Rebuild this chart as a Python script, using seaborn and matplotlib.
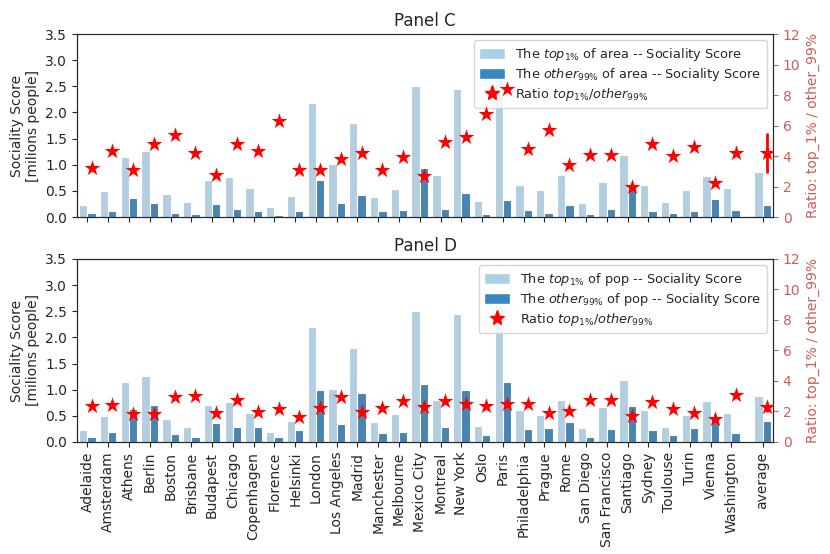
import numpy as np
import pandas as pd
import matplotlib
matplotlib.use("Agg")
import matplotlib.pyplot as plt
import seaborn as sns
from matplotlib.patches import Patch
from matplotlib.lines import Line2D

cities = ["Adelaide", "Amsterdam", "Athens", "Berlin", "Boston", "Brisbane", "Budapest",
          "Chicago", "Copenhagen", "Florence", "Helsinki", "London", "Los Angeles", "Madrid",
          "Manchester", "Melbourne", "Mexico City", "Montreal", "New York", "Oslo", "Paris",
          "Philadelphia", "Prague", "Rome", "San Diego", "San Francisco", "Santiago", "Sydney",
          "Toulouse", "Turin", "Vienna", "Washington", "average"]
positions = list(range(32)) + [32.5]

# sociality score of the top 1% (same in both panels)
top1_score = [0.23, 0.49, 1.15, 1.27, 0.44, 0.28, 0.70, 0.76, 0.56, 0.20, 0.40, 2.19, 1.01,
              1.80, 0.39, 0.54, 2.50, 0.80, 2.44, 0.30, 2.68, 0.62, 0.51, 0.80, 0.27, 0.66,
              1.19, 0.62, 0.28, 0.52, 0.79, 0.56, 0.87]

# panel C: area
other_area = [0.07, 0.11, 0.37, 0.26, 0.08, 0.065, 0.25, 0.15, 0.12, 0.035, 0.12, 0.70, 0.26,
              0.42, 0.12, 0.13, 0.93, 0.16, 0.46, 0.05, 0.32, 0.13, 0.085, 0.22, 0.06, 0.155,
              0.59, 0.12, 0.07, 0.11, 0.35, 0.13, 0.22]
ratio_area = [3.2, 4.3, 3.1, 4.8, 5.4, 4.2, 2.75, 4.8, 4.35, 6.3, 3.05, 3.05, 3.8, 4.2, 3.05,
              3.95, 2.7, 4.95, 5.25, 6.75, 8.4, 4.45, 5.7, 3.4, 4.05, 4.05, 1.97, 4.8, 4.0,
              4.6, 2.2, 4.2, 4.2]
ratio_area_err = 1.3

# panel D: population
other_pop = [0.10, 0.20, 0.63, 0.70, 0.15, 0.09, 0.37, 0.28, 0.28, 0.10, 0.23, 0.99, 0.34,
             0.93, 0.18, 0.20, 1.10, 0.29, 0.99, 0.13, 1.15, 0.25, 0.26, 0.39, 0.09, 0.24,
             0.68, 0.23, 0.13, 0.26, 0.50, 0.18, 0.40]
ratio_pop = [2.38, 2.4, 1.84, 1.84, 2.93, 3.04, 1.88, 2.73, 1.97, 2.14, 1.66, 2.2, 2.95, 1.95,
             2.2, 2.71, 2.3, 2.71, 2.49, 2.36, 2.47, 2.49, 1.92, 2.03, 2.78, 2.78, 1.73, 2.6,
             2.14, 1.92, 1.52, 3.06, 2.27]
ratio_pop_err = 0.3

light = "#abd0e6"
dark = "#3787c0"
red_axis = "indianred"

sns.set_style("ticks")
plt.rcParams["font.family"] = ["DejaVu Sans"]

fig, axes = plt.subplots(2, 1, figsize=(8.3, 5.54), dpi=100)
fig.subplots_adjust(left=0.0928, right=0.9313, top=0.9386, bottom=0.2022, hspace=0.2295)

panels = [("Panel C", "area", other_area, ratio_area, ratio_area_err),
          ("Panel D", "pop", other_pop, ratio_pop, ratio_pop_err)]

n = len(cities)
for ax, (title, kind, other, ratio, err) in zip(axes, panels):
    df = pd.DataFrame({
        "pos": positions + positions,
        "score": top1_score + other,
        "group": ["top"] * n + ["other"] * n,
    })
    sns.barplot(data=df, x="pos", y="score", hue="group", hue_order=["top", "other"],
                native_scale=True, palette=[light, dark], edgecolor="white", linewidth=0.8,
                errorbar=None, legend=False, ax=ax)
    ax.set_ylim(0, 3.5)
    ax.set_yticks(np.arange(0, 3.51, 0.5))
    ax.set_xlim(-0.5, 33)
    ax.set_xticks(positions)
    ax.set_xlabel("")
    ax.set_ylabel("Sociality Score\n[milions people]", fontsize=10)
    ax.set_title(title, fontsize=12)

    ax2 = ax.twinx()
    star_x = np.array(positions) + 0.2
    sns.scatterplot(x=star_x, y=ratio, marker="*", s=140, color="red", linewidth=0,
                    ax=ax2, zorder=3)
    ax2.errorbar(star_x[-1], ratio[-1], yerr=err, color="red", lw=2, capsize=0, zorder=2)
    ax2.set_ylim(0, 12)
    ax2.set_yticks(range(0, 13, 2))
    ax2.set_ylabel("Ratio: top_1% / other_99%", color=red_axis, fontsize=10)
    ax2.tick_params(axis="y", colors=red_axis)
    ax2.set_xlim(-0.5, 33)

    handles = [Patch(facecolor=light, edgecolor="white"),
               Patch(facecolor=dark, edgecolor="white"),
               Line2D([], [], marker="*", color="red", linestyle="None", markersize=11)]
    labels = [f"The $top_{{1\\%}}$ of {kind} -- Sociality Score",
              f"The $other_{{99\\%}}$ of {kind} -- Sociality Score",
              "Ratio $top_{1\\%}/other_{99\\%}$"]
    ax.legend(handles, labels, loc="upper right", fontsize=9.3, labelspacing=0.25,
              handleheight=0.9)

axes[0].set_xticklabels([])
axes[1].set_xticklabels(cities, rotation=90)

fig.savefig("out.png", dpi=100)
